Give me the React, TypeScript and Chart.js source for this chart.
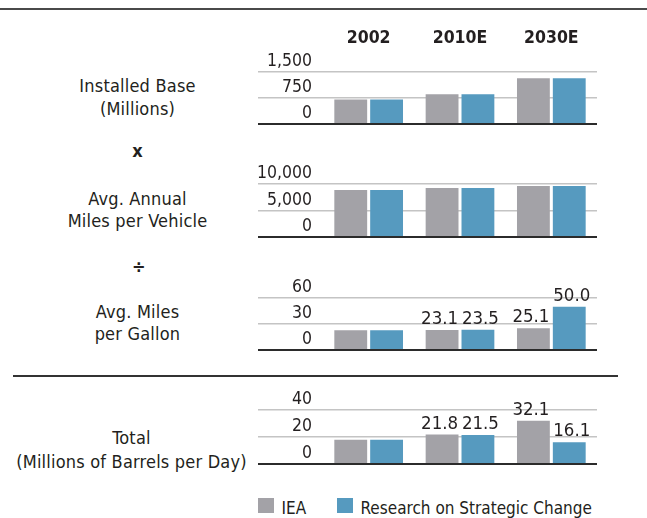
import React, { useEffect, useRef } from "react";
import { Chart, registerables } from "chart.js";
Chart.register(...registerables);

// ---------- data ----------
const years = ["2002", "2010E", "2030E"];
const seriesNames = ["IEA", "Research on Strategic Change"];
const seriesColors = ["#a3a2a7", "#569abf"];

const installedIEA = [710, 860, 1320];
const installedRSC = [710, 860, 1320];
const installedTicks = ["0", "750", "1,500"];
const installedMax = 1500;

const milesIEA = [8850, 9230, 9600];
const milesRSC = [8850, 9230, 9600];
const milesTicks = ["0", "5,000", "10,000"];
const milesMax = 10000;

const mpgIEA = [22.9, 23.1, 25.1];
const mpgRSC = [22.9, 23.5, 50.0];
const mpgLabelsIEA = [null, "23.1", "25.1"];
const mpgLabelsRSC = [null, "23.5", "50.0"];
const mpgTicks = ["0", "30", "60"];
const mpgMax = 60;

const totalIEA = [17.9, 21.8, 32.1];
const totalRSC = [17.9, 21.5, 16.1];
const totalLabelsIEA = [null, "21.8", "32.1"];
const totalLabelsRSC = [null, "21.5", "16.1"];
const totalTicks = ["0", "20", "40"];
const totalMax = 40;

// ---------- style ----------
const FONT = '"DejaVu Sans Condensed", "DejaVu Sans", sans-serif';
const TEXT = "#231f20";
const GRID_LIGHT = "#c4c4c4";
const GRID_DARK = "#2b2b2b";

type PanelProps = {
  areaTop: number;
  areaHeight: number;
  padTop: number;
  iea: number[];
  rsc: number[];
  max: number;
  ticks: string[];
  labelsIEA?: (string | null)[];
  labelsRSC?: (string | null)[];
  headers?: boolean;
};

const CANVAS_LEFT = 190;
const AXIS_LEFT = 258;
const AXIS_W = 65;
const AREA_RIGHT = 597;

function Panel(p: PanelProps) {
  const ref = useRef<HTMLCanvasElement | null>(null);
  const padBottom = 3;
  const padLeft = AXIS_LEFT - CANVAS_LEFT;
  const width = AREA_RIGHT - CANVAS_LEFT;
  const height = p.padTop + p.areaHeight + padBottom;

  useEffect(() => {
    if (!ref.current) return;
    const valueLabels = {
      id: "valueLabels",
      afterDatasetsDraw(chart: any) {
        const sets = [p.labelsIEA, p.labelsRSC];
        const ctx = chart.ctx;
        ctx.save();
        ctx.font = `18.5px ${FONT}`;
        ctx.fillStyle = TEXT;
        ctx.textAlign = "center";
        ctx.textBaseline = "alphabetic";
        sets.forEach((arr, di) => {
          if (!arr) return;
          const meta = chart.getDatasetMeta(di);
          const nudge = di === 0 ? -2.5 : 2.5;
          meta.data.forEach((el: any, i: number) => {
            const t = arr[i];
            if (t) ctx.fillText(t, el.x + nudge, el.y - 6);
          });
        });
        ctx.restore();
      },
    };
    const headerPlugin = {
      id: "headers",
      afterDraw(chart: any) {
        if (!p.headers) return;
        const ctx = chart.ctx;
        ctx.save();
        ctx.font = `bold 17.5px ${FONT}`;
        ctx.fillStyle = TEXT;
        ctx.textAlign = "center";
        ctx.textBaseline = "alphabetic";
        years.forEach((y, i) => {
          const x = chart.scales.x.getPixelForValue(i);
          ctx.fillText(y, x, chart.chartArea.top - 28.7);
        });
        ctx.restore();
      },
    };
    const isZero = (c: any) => c.tick && c.tick.value === 0;
    const chart = new Chart(ref.current, {
      type: "bar",
      data: {
        labels: years,
        datasets: [
          {
            label: seriesNames[0],
            data: p.iea,
            backgroundColor: seriesColors[0],
            categoryPercentage: 0.785,
            barPercentage: 0.916,
          },
          {
            label: seriesNames[1],
            data: p.rsc,
            backgroundColor: seriesColors[1],
            categoryPercentage: 0.785,
            barPercentage: 0.916,
          },
        ],
      },
      options: {
        responsive: false,
        animation: false,
        layout: { padding: { top: p.padTop, bottom: padBottom, left: padLeft, right: 0 } },
        plugins: { legend: { display: false }, tooltip: { enabled: false } },
        scales: {
          x: { display: false },
          y: {
            min: 0,
            max: p.max,
            afterFit: (s: any) => {
              s.width = AXIS_W;
            },
            afterBuildTicks: (s: any) => {
              s.ticks = [0, p.max / 2, p.max].map((v) => ({ value: v }));
            },
            border: { display: false },
            grid: {
              color: (c: any) => (isZero(c) ? GRID_DARK : GRID_LIGHT),
              lineWidth: (c: any) => (isZero(c) ? 2 : 1.5),
              drawTicks: true,
              tickLength: AXIS_W,
            },
            ticks: {
              autoSkip: false,
              padding: -54,
              labelOffset: -10.5,
              color: TEXT,
              font: { family: FONT, size: 17.5 },
              callback: (_v: any, i: number) => p.ticks[i],
            },
          },
        },
      } as any,
      plugins: [valueLabels, headerPlugin],
    });
    return () => chart.destroy();
  }, []);

  return (
    <canvas
      ref={ref}
      width={width}
      height={height}
      style={{ position: "absolute", left: CANVAS_LEFT, top: p.areaTop - p.padTop, width, height }}
    />
  );
}

const ASC = 0.928;
const CONTENT = 1.164;

function Label(props: {
  lines: string[];
  cx: number;
  baseline: number;
  lh?: number;
  size?: number;
  bold?: boolean;
}) {
  const size = props.size ?? 18;
  const lh = props.lh ?? 23;
  const off = (lh - CONTENT * size) / 2 + ASC * size;
  return (
    <div
      style={{
        position: "absolute",
        left: props.cx - 160,
        width: 320,
        top: props.baseline - off,
        textAlign: "center",
        fontSize: size,
        lineHeight: `${lh}px`,
        fontWeight: props.bold ? 700 : 400,
        letterSpacing: "0.2px",
        whiteSpace: "nowrap",
      }}
    >
      {props.lines.map((l, i) => (
        <div key={i}>{l}</div>
      ))}
    </div>
  );
}

export default function App() {
  const legendSize = 17;
  const legendTop = 514.3 - ((23 - CONTENT * legendSize) / 2 + ASC * legendSize);
  return (
    <div
      style={{
        position: "absolute",
        left: 0,
        top: 0,
        width: 647,
        height: 518,
        background: "#ffffff",
        overflow: "hidden",
        fontFamily: FONT,
        color: TEXT,
      }}
    >
      <div style={{ position: "absolute", left: 0, top: 8, width: 647, height: 2, background: "#4a4a4a" }} />

      <Label lines={["Installed Base", "(Millions)"]} cx={137.5} baseline={91.7} lh={23.3} />
      <Label lines={["x"]} cx={137.5} baseline={157} bold />
      <Label lines={["Avg. Annual", "Miles per Vehicle"]} cx={137.5} baseline={205} lh={22.5} />
      <Label lines={["÷"]} cx={139} baseline={272.5} bold />
      <Label lines={["Avg. Miles", "per Gallon"]} cx={137.5} baseline={318} lh={22} />
      <Label lines={["Total", "(Millions of Barrels per Day)"]} cx={131.5} baseline={444.3} lh={23.7} />

      <Panel areaTop={72} areaHeight={52} padTop={52} iea={installedIEA} rsc={installedRSC} max={installedMax} ticks={installedTicks} headers />
      <Panel areaTop={184} areaHeight={53} padTop={30} iea={milesIEA} rsc={milesRSC} max={milesMax} ticks={milesTicks} />
      <Panel
        areaTop={298}
        areaHeight={52}
        padTop={30}
        iea={mpgIEA}
        rsc={mpgRSC}
        max={mpgMax}
        ticks={mpgTicks}
        labelsIEA={mpgLabelsIEA}
        labelsRSC={mpgLabelsRSC}
      />

      <div style={{ position: "absolute", left: 13, top: 375, width: 605, height: 2, background: "#333333" }} />

      <Panel
        areaTop={410}
        areaHeight={54}
        padTop={30}
        iea={totalIEA}
        rsc={totalRSC}
        max={totalMax}
        ticks={totalTicks}
        labelsIEA={totalLabelsIEA}
        labelsRSC={totalLabelsRSC}
      />

      {seriesNames.map((name, i) => {
        const boxLeft = i === 0 ? 258 : 337;
        return (
          <React.Fragment key={name}>
            <div
              style={{
                position: "absolute",
                left: boxLeft,
                top: 498,
                width: 16,
                height: 15,
                background: seriesColors[i],
              }}
            />
            <div
              style={{
                position: "absolute",
                left: boxLeft + 23.5,
                top: legendTop,
                fontSize: legendSize,
                lineHeight: "23px",
                whiteSpace: "nowrap",
              }}
            >
              {name}
            </div>
          </React.Fragment>
        );
      })}
    </div>
  );
}
